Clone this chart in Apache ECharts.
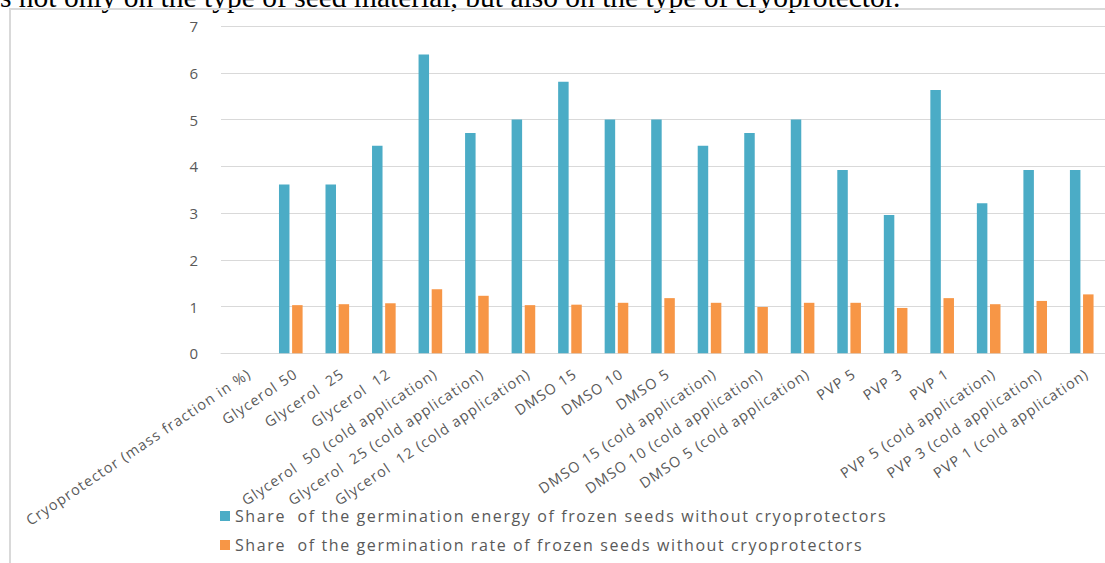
<!DOCTYPE html>
<html>
<head>
<meta charset="utf-8">
<script src="https://cdn.jsdelivr.net/npm/echarts@6/dist/echarts.min.js"></script>
<style>
html,body{margin:0;padding:0;background:#fff;}
#wrap{position:relative;width:1105px;height:563px;overflow:hidden;}
#c{position:absolute;left:0;top:0;width:1105px;height:563px;}
#c text[style*="sans-serif"]{letter-spacing:1.1px;}
#c text[style*="Roboto"]{letter-spacing:1.6px;}
#hdr{position:absolute;left:0;top:-18px;font:29.5px 'Liberation Serif',serif;line-height:30px;color:#000;white-space:nowrap;z-index:0;}
</style>
</head>
<body>
<div id="wrap">
<div id="hdr"></div>
<div id="c"></div>
</div>
<script>
const categories = ["Cryoprotector (mass fraction in %)", "Glycerol 50", "Glycerol  25", "Glycerol  12",
  "Glycerol  50 (cold application)", "Glycerol  25 (cold application)", "Glycerol  12 (cold application)",
  "DMSO 15", "DMSO 10", "DMSO 5", "DMSO 15 (cold application)", "DMSO 10 (cold application)",
  "DMSO 5 (cold application)", "PVP 5", "PVP 3", "PVP 1", "PVP 5 (cold application)",
  "PVP 3 (cold application)", "PVP 1 (cold application)"];
const energyShare = [null, 3.61, 3.61, 4.44, 6.39, 4.71, 5.00, 5.81, 5.00, 5.00, 4.44, 4.71, 5.00, 3.92, 2.96, 5.63, 3.21, 3.92, 3.92];
const rateShare = [null, 1.03, 1.05, 1.07, 1.37, 1.23, 1.03, 1.04, 1.08, 1.18, 1.08, 0.99, 1.08, 1.08, 0.97, 1.18, 1.05, 1.12, 1.26];
const seriesNames = ["Share  of the germination energy of frozen seeds without cryoprotectors",
  "Share  of the germination rate of frozen seeds without cryoprotectors"];
const yTicks = [0, 1, 2, 3, 4, 5, 6, 7];
const headerText = "s not only on the type of seed material, but also on the type of cryoprotector.";

document.getElementById('hdr').textContent = headerText;

const chart = echarts.init(document.getElementById('c'), null, {renderer: 'svg'});
const font = "'Open Sans', sans-serif";
chart.setOption({
  animation: false,
  graphic: [
    {type: 'rect', shape: {x: 10, y: 9, width: 1200, height: 700}, z: 2, silent: true,
     style: {fill: 'none', stroke: '#d9d9d9', lineWidth: 2}}
  ],
  grid: {left: 221, right: -2, top: 26, bottom: 209.7, containLabel: false},
  legend: {
    orient: 'vertical', left: 220, top: 508, itemWidth: 10, itemHeight: 10, itemGap: 13,
    icon: 'rect', padding: 0,
    textStyle: {fontFamily: "'Open Sans', Roboto", fontSize: 16, lineHeight: 16, color: '#595959'},
    data: seriesNames
  },
  xAxis: {
    type: 'category', data: categories,
    axisLine: {lineStyle: {color: '#d9d9d9', width: 1}},
    axisTick: {show: false},
    axisLabel: {interval: 0, rotate: 34, margin: 22, padding: [0, -6, 0, 0],
      fontFamily: font, fontSize: 14.5, color: '#595959'}
  },
  yAxis: {
    type: 'value', min: 0, max: 7, interval: 1,
    axisLine: {show: false}, axisTick: {show: false},
    splitLine: {lineStyle: {color: '#d9d9d9', width: 1}},
    axisLabel: {margin: 23, fontFamily: 'Open Sans', fontSize: 15, color: '#595959',
      formatter: v => yTicks.includes(v) ? String(v) : ''}
  },
  series: [
    {name: seriesNames[0], type: 'bar', data: energyShare, barWidth: 10.5, barGap: '25%',
     itemStyle: {color: '#4BACC6'}},
    {name: seriesNames[1], type: 'bar', data: rateShare, barWidth: 10.5, barGap: '25%',
     itemStyle: {color: '#F79646'}}
  ]
});
</script>
</body>
</html>
